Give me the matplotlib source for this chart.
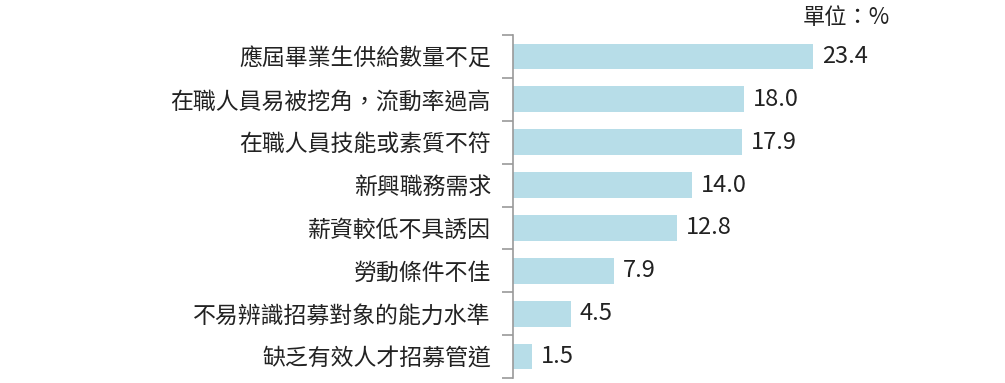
import matplotlib
matplotlib.use('Agg')
import matplotlib.pyplot as plt
import numpy as np

plt.rcParams['font.family'] = ['Noto Sans CJK TC', 'DejaVu Sans']

labels = ['應屆畢業生供給數量不足', '在職人員易被挖角，流動率過高', '在職人員技能或素質不符',
          '新興職務需求', '薪資較低不具誘因', '勞動條件不佳',
          '不易辨識招募對象的能力水準', '缺乏有效人才招募管道']
values = [23.4, 18.0, 17.9, 14.0, 12.8, 7.9, 4.5, 1.5]

fig = plt.figure(figsize=(10.05, 3.83), dpi=100)
ax = fig.add_axes([513 / 1005, 5 / 383, 447 / 1005, 343 / 383])

y = np.arange(len(values))
ax.barh(y, values, height=0.6, color='#b7dde8', left=0)
for yi, v in zip(y, values):
    ax.text(v + 0.7, yi, f'{v:.1f}', va='center', ha='left', fontsize=17, color='#222222')

ax.set_xlim(0, 34.9)
ax.set_ylim(len(values) - 0.5, -0.5)
ax.set_yticks(y)
ax.set_yticklabels(labels, fontsize=16.5, color='#222222')
ax.set_yticks(np.arange(-0.5, len(values)), minor=True)
ax.tick_params(axis='y', which='major', length=0, pad=16)
ax.tick_params(axis='y', which='minor', length=8, color='#999999', width=1.2)
ax.set_xticks([])
for s in ['top', 'right', 'bottom']:
    ax.spines[s].set_visible(False)
ax.spines['left'].set_color('#999999')
ax.spines['left'].set_linewidth(1.2)

fig.text(846 / 1005, 1 - 17 / 383, '單位：%', ha='center', va='center', fontsize=16, color='#222222')

fig.savefig('out.png', dpi=100)
